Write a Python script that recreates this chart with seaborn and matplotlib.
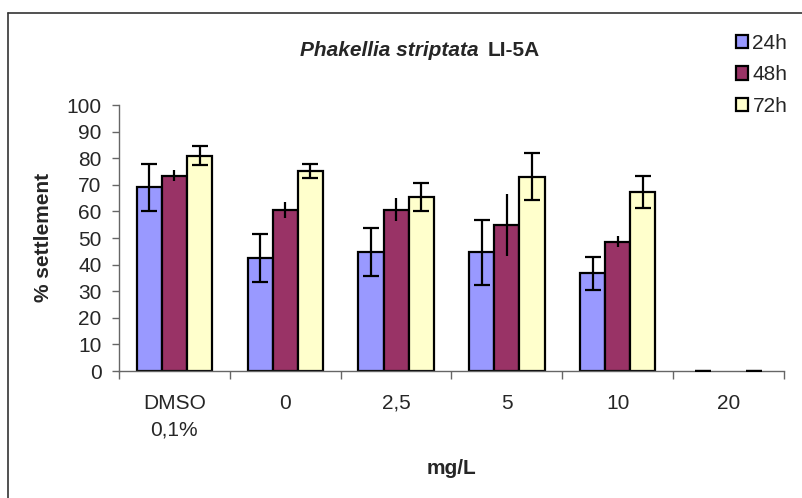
import matplotlib
matplotlib.use("Agg")
import matplotlib.pyplot as plt
from matplotlib.lines import Line2D
import seaborn as sns
import pandas as pd
import numpy as np

categories = ["DMSO\n0,1%", "0", "2,5", "5", "10", "20"]
series = ["24h", "48h", "72h"]
values_24h = [69.0, 42.6, 44.8, 44.6, 36.7, 0.0]
values_48h = [73.4, 60.7, 60.6, 54.8, 48.6, 0.0]
values_72h = [80.9, 75.3, 65.4, 73.1, 67.3, 0.0]
err_24h = [8.7, 9.0, 9.0, 12.2, 6.1, 0.0]
err_48h = [2.0, 3.0, 4.3, 11.6, 2.1, 0.0]
err_72h = [3.5, 2.7, 5.4, 8.9, 6.0, 0.0]
colors = {"24h": "#9999FF", "48h": "#993366", "72h": "#FFFFCC"}
title_italic = "Phakellia striptata"
title_rest = "LI-5A"
y_label = "% settlement"
x_label = "mg/L"

values = {"24h": values_24h, "48h": values_48h, "72h": values_72h}
errors = {"24h": err_24h, "48h": err_48h, "72h": err_72h}
rows = []
for s in series:
    for c, v in zip(categories, values[s]):
        rows.append({"cat": c, "series": s, "value": v})
df = pd.DataFrame(rows)

sns.set_style("white")
plt.rcParams["font.family"] = ["Liberation Sans", "DejaVu Sans"]
FS = 15

W, H = 803, 498
fig = plt.figure(figsize=(W / 100, H / 100), dpi=100)
ax = fig.add_axes([119 / W, 1 - 371 / H, (784 - 119) / W, (371 - 105) / H])

sns.barplot(data=df, x="cat", y="value", hue="series", order=categories,
            hue_order=series, palette=colors, saturation=1, width=0.68, ax=ax,
            edgecolor="black", linewidth=1.6, errorbar=None, legend=True)

for s, cont in zip(series, ax.containers):
    xs = [p.get_x() + p.get_width() / 2 for p in cont.patches]
    ys = [p.get_height() for p in cont.patches]
    for p in cont.patches:
        if p.get_height() == 0:
            p.set_linewidth(0)
    cap = 0 if s == "48h" else 5.8
    ax.errorbar(xs, ys, yerr=errors[s], fmt="none", ecolor="black",
                elinewidth=1.6, capsize=cap, capthick=1.6, zorder=5)

ax.set_ylim(0, 100)
ax.set_xlim(-0.5, len(categories) - 0.5)
ax.set_yticks(np.arange(0, 101, 10))
ax.tick_params(axis="y", labelsize=FS, length=5, width=1, color="#666666",
               direction="out", left=True, pad=7.5)
ax.set_xticks(range(len(categories)))
ax.set_xticklabels(categories, fontsize=FS, linespacing=1.5, va="top")
ax.tick_params(axis="x", which="major", length=0, pad=16.5)
ax.set_xticks(np.arange(-0.5, len(categories), 1.0), minor=True)
ax.tick_params(axis="x", which="minor", length=6, width=1, color="#666666",
               direction="out", bottom=True)
for sp in ["top", "right"]:
    ax.spines[sp].set_visible(False)
for sp in ["left", "bottom"]:
    ax.spines[sp].set_color("#666666")
    ax.spines[sp].set_linewidth(1)

ax.set_xlabel("")
ax.set_ylabel("")
fig.text(44 / W, 1 - 237 / H, y_label, fontsize=FS, fontweight="bold",
         rotation=90, ha="center", va="center")
fig.text(452 / W, 1 - 468 / H, x_label, fontsize=FS, fontweight="bold",
         ha="center", va="center")

# title: italic species name + regular bold strain, centred as one line
fig.canvas.draw()
r = fig.canvas.get_renderer()
t1 = fig.text(0, 1 - 51 / H, title_italic, fontsize=FS, fontweight="bold",
              style="italic", ha="left", va="center")
t2 = fig.text(0, 1 - 51 / H, title_rest, fontsize=FS, fontweight="bold",
              ha="left", va="center")
w1 = t1.get_window_extent(r).width
w2 = t2.get_window_extent(r).width
gap = 9
x0 = 419.5 - (w1 + gap + w2) / 2
t1.set_x(x0 / W)
t2.set_x((x0 + w1 + gap) / W)

handles, labels = ax.get_legend_handles_labels()
ax.legend(handles, labels, loc="upper left", bbox_to_anchor=(717 / W, 1 - 15 / H),
          bbox_transform=fig.transFigure, frameon=False, fontsize=FS,
          handlelength=0.6, handleheight=0.6, handletextpad=0.2,
          labelspacing=0.6, borderpad=0.4)

fig.add_artist(Line2D([8 / W, 8 / W], [-0.1, 1 - 13 / H], color="#333333",
                      linewidth=1.2, transform=fig.transFigure))
fig.add_artist(Line2D([8 / W, 1.1], [1 - 13 / H, 1 - 13 / H], color="#333333",
                      linewidth=1.2, transform=fig.transFigure))

fig.savefig("out.png", dpi=100)
